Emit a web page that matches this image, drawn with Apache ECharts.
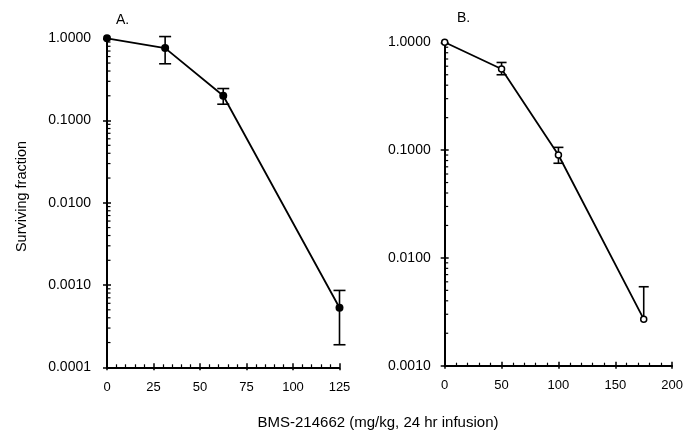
<!DOCTYPE html>
<html><head><meta charset="utf-8">
<script src="https://cdn.jsdelivr.net/npm/echarts@6/dist/echarts.min.js"></script>
<style>html,body{margin:0;padding:0;background:#fff}#c{width:686px;height:437px}</style>
</head><body><div id="c"></div>
<script>
// Panel A data
const doseA = [0, 31.25, 62.5, 125];
const survA = [1.0, 0.76, 0.20, 0.00053];
const errHiA = [1.0, 1.05, 0.245, 0.00086];
const errLoA = [1.0, 0.49, 0.158, 0.000188];
// Panel B data
const doseB = [0, 50, 100, 175];
const survB = [1.0, 0.565, 0.090, 0.0027];
const errHiB = [1.0, 0.65, 0.106, 0.0054];
const errLoB = [1.0, 0.50, 0.0755, 0.0027];
// Axis ranges / labels
const xTicksA = [0, 25, 50, 75, 100, 125];
const xTicksB = [0, 50, 100, 150, 200];
const yRangeA = [0.0001, 1];
const yRangeB = [0.001, 1];
const panelTitles = ['A.', 'B.'];
const yTitle = 'Surviving fraction';
const xTitle = 'BMS-214662 (mg/kg, 24 hr infusion)';

const FONT = '"Liberation Sans", Arial, sans-serif';
const chart = echarts.init(document.getElementById('c'));

function minorLogTicks(range) {
  const out = [];
  for (let e = Math.round(Math.log10(range[0])); e < Math.round(Math.log10(range[1])); e++) {
    for (let m = 2; m <= 9; m++) out.push([m * Math.pow(10, e)]);
  }
  return out;
}
function errData(x, y, lo, hi) { return x.map((v, i) => [v, y[i], lo[i], hi[i]]); }

const grids = [
  { left: 107, top: 38.3, width: 232.5, height: 329 },
  { left: 444.7, top: 42.3, width: 229, height: 323.4 }
];
const axLine = { show: true, lineStyle: { color: '#000', width: 2 } };
function mainX(g, t, mar) {
  return { type: 'value', gridIndex: g, position: 'bottom', min: t[0], max: t[t.length - 1], interval: t[1] - t[0],
    axisLine: axLine, splitLine: { show: false },
    axisTick: { show: true, inside: true, length: 4, lineStyle: { color: '#000', width: 1.5 } },
    minorTick: { show: true, splitNumber: 5, length: 3, lineStyle: { color: '#000', width: 1.2 } },
    axisLabel: { color: '#000', fontFamily: FONT, fontSize: 13, margin: mar } };
}
function overX(g, t) {
  return { type: 'value', gridIndex: g, position: 'bottom', min: t[0], max: t[t.length - 1], interval: t[1] - t[0],
    axisLine: { show: false }, splitLine: { show: false }, axisLabel: { show: false },
    axisTick: { show: true, inside: false, length: 3, lineStyle: { color: '#000', width: 1.5 } } };
}
function mainY(g, r, mar) {
  return { type: 'log', gridIndex: g, position: 'left', min: r[0], max: r[1], logBase: 10,
    axisLine: axLine, splitLine: { show: false },
    axisTick: { show: true, inside: false, length: 4, lineStyle: { color: '#000', width: 1.5 } },
    axisLabel: { color: '#000', fontFamily: FONT, fontSize: 14, margin: mar, formatter: v => v.toFixed(4) } };
}
function overY(g, r) {
  return { type: 'log', gridIndex: g, position: 'left', min: r[0], max: r[1], logBase: 10,
    axisLine: { show: false }, splitLine: { show: false }, axisLabel: { show: false },
    axisTick: { show: true, inside: true, length: 4, lineStyle: { color: '#000', width: 1.5 } } };
}
function minorSeries(xi, yi, range) {
  return { type: 'custom', xAxisIndex: xi, yAxisIndex: yi, clip: false, silent: true, z: 1,
    data: minorLogTicks(range),
    renderItem: (params, api) => {
      const p = api.coord([0, api.value(0)]);
      return { type: 'line', shape: { x1: p[0], y1: p[1], x2: p[0] + 3.5, y2: p[1] },
        style: { stroke: '#000', lineWidth: 1.2 } };
    },
    encode: { y: 0 } };
}
function errSeries(xi, yi, data, cap) {
  return { type: 'custom', xAxisIndex: xi, yAxisIndex: yi, clip: false, silent: true, z: 3,
    data: data, encode: { x: 0, y: 1 },
    renderItem: (params, api) => {
      const x = api.value(0), y = api.value(1), lo = api.value(2), hi = api.value(3);
      if (lo === hi) return { type: 'group', children: [] };
      const pH = api.coord([x, hi]), pL = api.coord([x, lo]);
      const ch = [{ type: 'line', shape: { x1: pH[0], y1: pH[1], x2: pL[0], y2: pL[1] }, style: { stroke: '#000', lineWidth: 1.6 } }];
      if (hi > y) ch.push({ type: 'line', shape: { x1: pH[0] - cap, y1: pH[1], x2: pH[0] + cap, y2: pH[1] }, style: { stroke: '#000', lineWidth: 1.6 } });
      if (lo < y) ch.push({ type: 'line', shape: { x1: pL[0] - cap, y1: pL[1], x2: pL[0] + cap, y2: pL[1] }, style: { stroke: '#000', lineWidth: 1.6 } });
      return { type: 'group', children: ch };
    } };
}

chart.setOption({
  animation: false,
  backgroundColor: '#fff',
  grid: grids,
  xAxis: [mainX(0, xTicksA, 14), mainX(1, xTicksB, 13), overX(0, xTicksA), overX(1, xTicksB)],
  yAxis: [mainY(0, yRangeA, 16), mainY(1, yRangeB, 14), overY(0, yRangeA), overY(1, yRangeB)],
  graphic: [
    { type: 'text', left: 116, top: 13, style: { text: panelTitles[0], font: '14px ' + FONT, fill: '#000' } },
    { type: 'text', left: 457, top: 11, style: { text: panelTitles[1], font: '14px ' + FONT, fill: '#000' } },
    { type: 'text', x: 21.5, y: 196.5, rotation: Math.PI / 2,
      style: { text: yTitle, font: '14.5px ' + FONT, fill: '#000', align: 'center', verticalAlign: 'middle' } },
    { type: 'text', x: 378, y: 423,
      style: { text: xTitle, font: '15px ' + FONT, fill: '#000', align: 'center', verticalAlign: 'middle' } }
  ],
  series: [
    minorSeries(0, 0, yRangeA),
    minorSeries(1, 1, yRangeB),
    errSeries(0, 0, errData(doseA, survA, errLoA, errHiA), 6),
    errSeries(1, 1, errData(doseB, survB, errLoB, errHiB), 5),
    { type: 'line', xAxisIndex: 0, yAxisIndex: 0, data: doseA.map((x, i) => [x, survA[i]]),
      symbol: 'circle', symbolSize: 8, clip: false, z: 4,
      lineStyle: { color: '#000', width: 1.8 }, itemStyle: { color: '#000' } },
    { type: 'line', xAxisIndex: 1, yAxisIndex: 1, data: doseB.map((x, i) => [x, survB[i]]),
      symbol: 'circle', symbolSize: 6, clip: false, z: 4,
      lineStyle: { color: '#000', width: 1.8 }, itemStyle: { color: '#fff', borderColor: '#000', borderWidth: 1.5 } }
  ]
});
</script></body></html>
